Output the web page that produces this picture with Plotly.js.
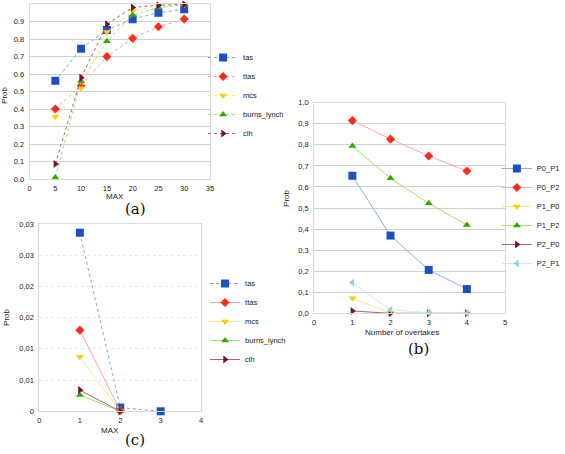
<!DOCTYPE html>
<html><head><meta charset="utf-8">
<script src="https://cdn.plot.ly/plotly-3.0.1.min.js"></script>
<style>html,body{margin:0;padding:0;background:#fff;} #chart{width:565px;height:454px;}</style>
</head><body><div id="chart"></div>
<script>
// ---------- Panel (a) ----------
const maxA = [5, 10, 15, 20, 25, 30];
const tasA = [0.562, 0.745, 0.852, 0.913, 0.950, 0.970];
const ttasA = [0.401, 0.534, 0.700, 0.804, 0.870, 0.914];
const mcsA = [0.357, 0.519, 0.840, 0.960, 0.990, 0.997];
const burnsA = [0.010, 0.561, 0.787, 0.937, 0.980, 0.995];
const clhA = [0.087, 0.580, 0.884, 0.980, 0.993, 0.998];
const namesA = ['tas', 'ttas', 'mcs', 'burns_lynch', 'clh'];
const xTicksA = [0, 5, 10, 15, 20, 25, 30, 35];
const yTicksA = [0, 0.1, 0.2, 0.3, 0.4, 0.5, 0.6, 0.7, 0.8, 0.9, 1.0];
const yTickTextA = ['0.0', '0.1', '0.2', '0.3', '0.4', '0.5', '0.6', '0.7', '0.8', '0.9', '1.0'];

// ---------- Panel (b) ----------
const overtakes = [1, 2, 3, 4];
const p0p1 = [0.653, 0.369, 0.206, 0.115];
const p0p2 = [0.915, 0.827, 0.747, 0.676];
const p1p0 = [0.071, 0.001, 0.0, 0.0];
const p1p2 = [0.794, 0.641, 0.522, 0.419];
const p2p0 = [0.011, 0.0, 0.0, 0.0];
const p2p1 = [0.146, 0.017, 0.002, 0.0];
const namesB = ['P0_P1', 'P0_P2', 'P1_P0', 'P1_P2', 'P2_P0', 'P2_P1'];
const xTicksB = [0, 1, 2, 3, 4, 5];
const yTicksB = [0, 0.1, 0.2, 0.3, 0.4, 0.5, 0.6, 0.7, 0.8, 0.9, 1.0];
const yTickTextB = ['0,0', '0,1', '0,2', '0,3', '0,4', '0,5', '0,6', '0,7', '0,8', '0,9', '1,0'];

// ---------- Panel (c) ----------
const maxC = [1, 2, 3];
const tasC = [0.0286, 0.0006, 0.0];
const ttasC = [0.0130, 0.0001];
const mcsC = [0.00875, 0.0];
const burnsC = [0.0026, 0.0];
const clhC = [0.0034, 0.0];
const namesC = ['tas', 'ttas', 'mcs', 'burns_lynch', 'clh'];
const xTicksC = [0, 1, 2, 3, 4];
const yTicksC = [0, 0.005, 0.01, 0.015, 0.02, 0.025, 0.03];
const yTickTextC = ['0', '0,01', '0,01', '0,02', '0,02', '0,03', '0,03'];
const yMajorGridC = [0, 0.015, 0.03];

// ---------- styling ----------
const W = 565, H = 454;
const px = x => x / W;
const py = y => 1 - y / H;

const algStyle = {
  'tas':         {sym: 'square',         mc: '#1b4fc4', lc: '#7aa6e0', ms: 8},
  'ttas':        {sym: 'diamond',        mc: '#ff2a1a', lc: '#ff9c9c', ms: 7},
  'mcs':         {sym: 'triangle-down',  mc: '#ffcc00', lc: '#ffe680', ms: 7},
  'burns_lynch': {sym: 'triangle-up',    mc: '#33aa00', lc: '#a3e070', ms: 7},
  'clh':         {sym: 'triangle-right', mc: '#7a1030', lc: '#b06080', ms: 7}
};
const pairStyle = {
  'P0_P1': {sym: 'square',         mc: '#1b4fc4', lc: '#8ab0e6', ms: 8},
  'P0_P2': {sym: 'diamond',        mc: '#ff2a1a', lc: '#ffa8a8', ms: 7},
  'P1_P0': {sym: 'triangle-down',  mc: '#ffcc00', lc: '#ffe680', ms: 7},
  'P1_P2': {sym: 'triangle-up',    mc: '#33aa00', lc: '#a3e070', ms: 7},
  'P2_P0': {sym: 'triangle-right', mc: '#7a1030', lc: '#b06080', ms: 7},
  'P2_P1': {sym: 'triangle-left',  mc: '#8fd3f0', lc: '#c4ecfa', ms: 7}
};

function mk(x, y, name, st, xa, ya, leg, dash) {
  return {
    type: 'scatter', mode: 'lines+markers', x: x, y: y, name: name,
    xaxis: xa, yaxis: ya, legend: leg, cliponaxis: false,
    line: {color: st.lc, width: 1, dash: dash},
    marker: {symbol: st.sym, color: st.mc, size: st.ms, line: {width: 0}}
  };
}

const seriesA = [tasA, ttasA, mcsA, burnsA, clhA];
const seriesB = [p0p1, p0p2, p1p0, p1p2, p2p0, p2p1];
const seriesC = [tasC, ttasC, mcsC, burnsC, clhC];

const data = [];
namesA.forEach((n, i) => data.push(mk(maxA, seriesA[i], n, algStyle[n], 'x', 'y', 'legend', 'dot')));
namesB.forEach((n, i) => data.push(mk(overtakes, seriesB[i], n, pairStyle[n], 'x2', 'y2', 'legend2', 'solid')));
namesC.forEach((n, i) => data.push(mk(maxC.slice(0, seriesC[i].length), seriesC[i], n, algStyle[n], 'x3', 'y3', 'legend3', n === 'tas' ? 'dot' : 'solid')));

const tickFont = {family: 'Liberation Sans, Arial, sans-serif', size: 7.5, color: '#222'};
const gridC = '#cdd2d2';
function xax(dom, rng, ticks, anchor) {
  return {domain: dom, range: rng, tickvals: ticks, anchor: anchor, showgrid: false,
    zeroline: false, showline: true, mirror: true, linecolor: '#d6dada', linewidth: 1,
    ticks: '', tickfont: tickFont, ticklabelstandoff: 2, fixedrange: true};
}
function yax(dom, rng, ticks, text, anchor) {
  return {domain: dom, range: rng, tickvals: ticks, ticktext: text, anchor: anchor,
    showgrid: true, gridcolor: gridC, gridwidth: 1, zeroline: false, showline: true,
    mirror: true, linecolor: '#d6dada', linewidth: 1, ticks: '', tickfont: tickFont,
    ticklabelstandoff: 3, fixedrange: true};
}
const legFont = {family: 'Liberation Sans, Arial, sans-serif', size: 7.5, color: '#222'};
function leg(x, y) {
  return {x: px(x), y: py(y), xanchor: 'left', yanchor: 'top', xref: 'paper', yref: 'paper',
    bgcolor: 'rgba(0,0,0,0)', borderwidth: 0, font: legFont, itemwidth: 30};
}
const titleFont = {family: 'Liberation Sans, Arial, sans-serif', size: 8, color: '#222'};
const capFont = {family: 'DejaVu Serif, Liberation Serif, serif', size: 15, color: '#111'};
function ann(text, x, y, font, rot) {
  return {text: text, x: px(x), y: py(y), xref: 'paper', yref: 'paper', showarrow: false,
    xanchor: 'center', yanchor: 'middle', font: font, textangle: rot || 0};
}

const yaxis3 = yax([py(411.3), py(224)], [0, 0.03], yTicksC, yTickTextC, 'x3');
yaxis3.gridcolor = '#e6eaea';
yaxis3.griddash = 'dot';
yaxis3.minor = {tickmode: 'array', tickvals: yMajorGridC, showgrid: true, gridcolor: gridC, gridwidth: 1, ticks: ''};

const layout = {
  width: W, height: H, margin: {l: 0, r: 0, t: 0, b: 0},
  paper_bgcolor: '#fff', plot_bgcolor: '#fff', showlegend: true,
  xaxis: xax([px(30), px(213)], [0, 35], xTicksA, 'y'),
  yaxis: yax([py(179.3), py(4)], [0, 1], yTicksA, yTickTextA, 'x'),
  xaxis2: xax([px(318.7), px(512.3)], [0, 5], xTicksB, 'y2'),
  yaxis2: yax([py(313.3), py(102.7)], [0, 1], yTicksB, yTickTextB, 'x2'),
  xaxis3: xax([px(40), px(204)], [0, 4], xTicksC, 'y3'),
  yaxis3: yaxis3,
  legend: leg(206, 43),
  legend2: leg(504, 154),
  legend3: leg(208, 269),
  annotations: [
    ann('MAX', 117, 196, titleFont),
    ann('Prob', 5, 95, titleFont, -90),
    ann('(a)', 137, 209, capFont),
    ann('Number of overtakes', 408, 332, titleFont),
    ann('Prob', 290, 198, titleFont, -90),
    ann('(b)', 425, 349, capFont),
    ann('MAX', 112, 430, titleFont),
    ann('Prob', 6, 317, titleFont, -90),
    ann('(c)', 137, 440, capFont)
  ]
};

Plotly.newPlot('chart', data, layout, {staticPlot: true, displayModeBar: false});
</script>
</body></html>
